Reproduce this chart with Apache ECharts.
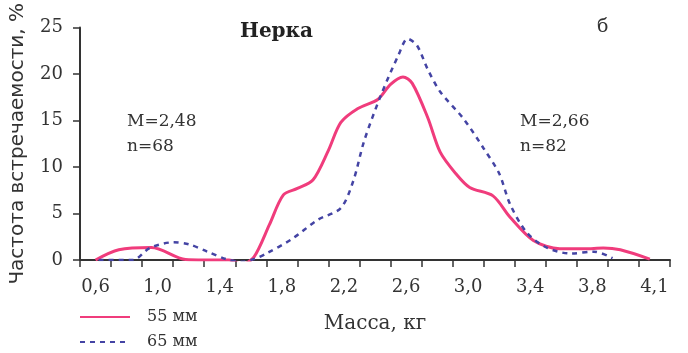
<!DOCTYPE html>
<html>
<head>
<meta charset="utf-8">
<script src="https://cdn.jsdelivr.net/npm/echarts@6/dist/echarts.min.js"></script>
<style>
  html, body { margin: 0; padding: 0; background: #fff; }
  #chart { width: 688px; height: 353px; }
</style>
</head>
<body>
<div id="chart"></div>
<script>
// подписи оси X (как в оригинале, последняя подпись "4,1")
const xCategories = ["0,6","0,8","1,0","1,2","1,4","1,6","1,8","2,0","2,2","2,4","2,6","2,8","3,0","3,2","3,4","3,6","3,8","4,0","4,1"];
const yTicks = [0, 5, 10, 15, 20, 25];

// 55 мм
const seriesA = [[0.6,0],[0.75,1.1],[0.96,1.35],[1.18,0.05],[1.3,0],[1.46,0],[1.54,-0.45],[1.62,0.3],[1.72,3.8],[1.81,7.0],[1.9,7.7],[2.0,8.6],[2.1,11.8],[2.18,14.8],[2.29,16.3],[2.42,17.3],[2.5,18.9],[2.58,19.7],[2.64,19.0],[2.74,15.3],[2.82,11.6],[2.92,9.3],[3.01,7.8],[3.16,6.9],[3.27,4.6],[3.42,2.1],[3.59,1.2],[3.75,1.2],[3.87,1.3],[3.98,1.1],[4.17,0.1]];
// 65 мм
const seriesB = [[0.62,0],[0.84,0],[0.95,1.3],[1.1,1.9],[1.2,1.7],[1.32,0.9],[1.44,0.1],[1.54,-0.2],[1.62,0.1],[1.7,0.7],[1.86,2.2],[2.03,4.3],[2.18,5.6],[2.26,8.5],[2.33,12.8],[2.44,17.8],[2.55,22],[2.61,23.8],[2.67,23.1],[2.74,20.5],[2.82,18.1],[2.97,15.2],[3.1,12],[3.2,9.3],[3.27,6.0],[3.38,2.9],[3.51,1.3],[3.66,0.7],[3.81,0.9],[3.93,0.2]];

const seriesNames = ["55 мм", "65 мм"];
const statsLeft = ["M=2,48", "n=68"];
const statsRight = ["M=2,66", "n=82"];

var myChart = echarts.init(document.getElementById("chart"));
var serif = "DejaVu Serif";
var axisColor = "#333";

var option = {
  animation: false,
  title: {
    text: "Нерка",
    left: 235,
    top: 17,
    textStyle: { fontFamily: serif, fontWeight: "bold", fontSize: 20, color: "#222" },
  },
  legend: {
    orient: "vertical",
    left: 79,
    top: 309,
    padding: 0,
    itemWidth: 50,
    itemHeight: 12,
    itemGap: 9,
    data: seriesNames,
    itemStyle: { opacity: 0 },
    textStyle: { fontFamily: serif, fontSize: 16, lineHeight: 16, color: "#333", padding: [0, 0, 0, 12] },
  },
  grid: { left: 79, right: 18, top: 25, bottom: 93 },
  xAxis: [
    {
      type: "category",
      data: xCategories,
      boundaryGap: true,
      name: "Масса, кг",
      nameLocation: "middle",
      nameGap: 54,
      nameTextStyle: { fontFamily: serif, fontSize: 20, color: axisColor },
      axisLine: { lineStyle: { color: axisColor, width: 2 } },
      axisTick: { show: true, interval: 0, length: 7, lineStyle: { color: axisColor, width: 1.5 } },
      axisLabel: { interval: 1, margin: 18, fontFamily: serif, fontSize: 18, color: axisColor },
      splitLine: { show: false },
    },
    {
      type: "value",
      min: 0.5,
      max: 4.3,
      show: false,
      splitLine: { show: false },
    },
  ],
  yAxis: {
    type: "value",
    min: 0,
    max: 25,
    interval: 5,
    name: "Частота встречаемости, %",
    nameLocation: "middle",
    nameRotate: 90,
    nameGap: 52,
    nameTextStyle: { fontFamily: "DejaVu Sans", fontSize: 20, color: axisColor },
    axisLine: { show: true, lineStyle: { color: axisColor, width: 2 } },
    axisTick: { show: true, length: 7, lineStyle: { color: axisColor, width: 1.5 } },
    axisLabel: { margin: 17, fontFamily: serif, fontSize: 18, color: axisColor },
    splitLine: { show: false },
  },
  series: [
    {
      name: seriesNames[0],
      type: "line",
      xAxisIndex: 1,
      data: seriesA,
      smooth: 0.3,
      symbol: "none",
      lineStyle: { color: "#f03c7c", width: 3 },
      itemStyle: { color: "#f03c7c" },
    },
    {
      name: seriesNames[1],
      type: "line",
      xAxisIndex: 1,
      data: seriesB,
      smooth: 0.3,
      symbol: "none",
      lineStyle: { color: "#4444a4", width: 2.5, type: [5, 5] },
      itemStyle: { color: "#4444a4" },
    },
  ],
  graphic: [
    {
      type: "text", left: 127, top: 109,
      style: { text: statsLeft.join("\n"), font: "17px 'DejaVu Serif'", fill: "#333", lineHeight: 25 },
    },
    {
      type: "text", left: 520, top: 109,
      style: { text: statsRight.join("\n"), font: "17px 'DejaVu Serif'", fill: "#333", lineHeight: 25 },
    },
    {
      type: "text", left: 597, top: 18,
      style: { text: "б", font: "19px 'DejaVu Serif'", fill: "#333" },
    },
  ],
};

option && myChart.setOption(option);
</script>
</body>
</html>
